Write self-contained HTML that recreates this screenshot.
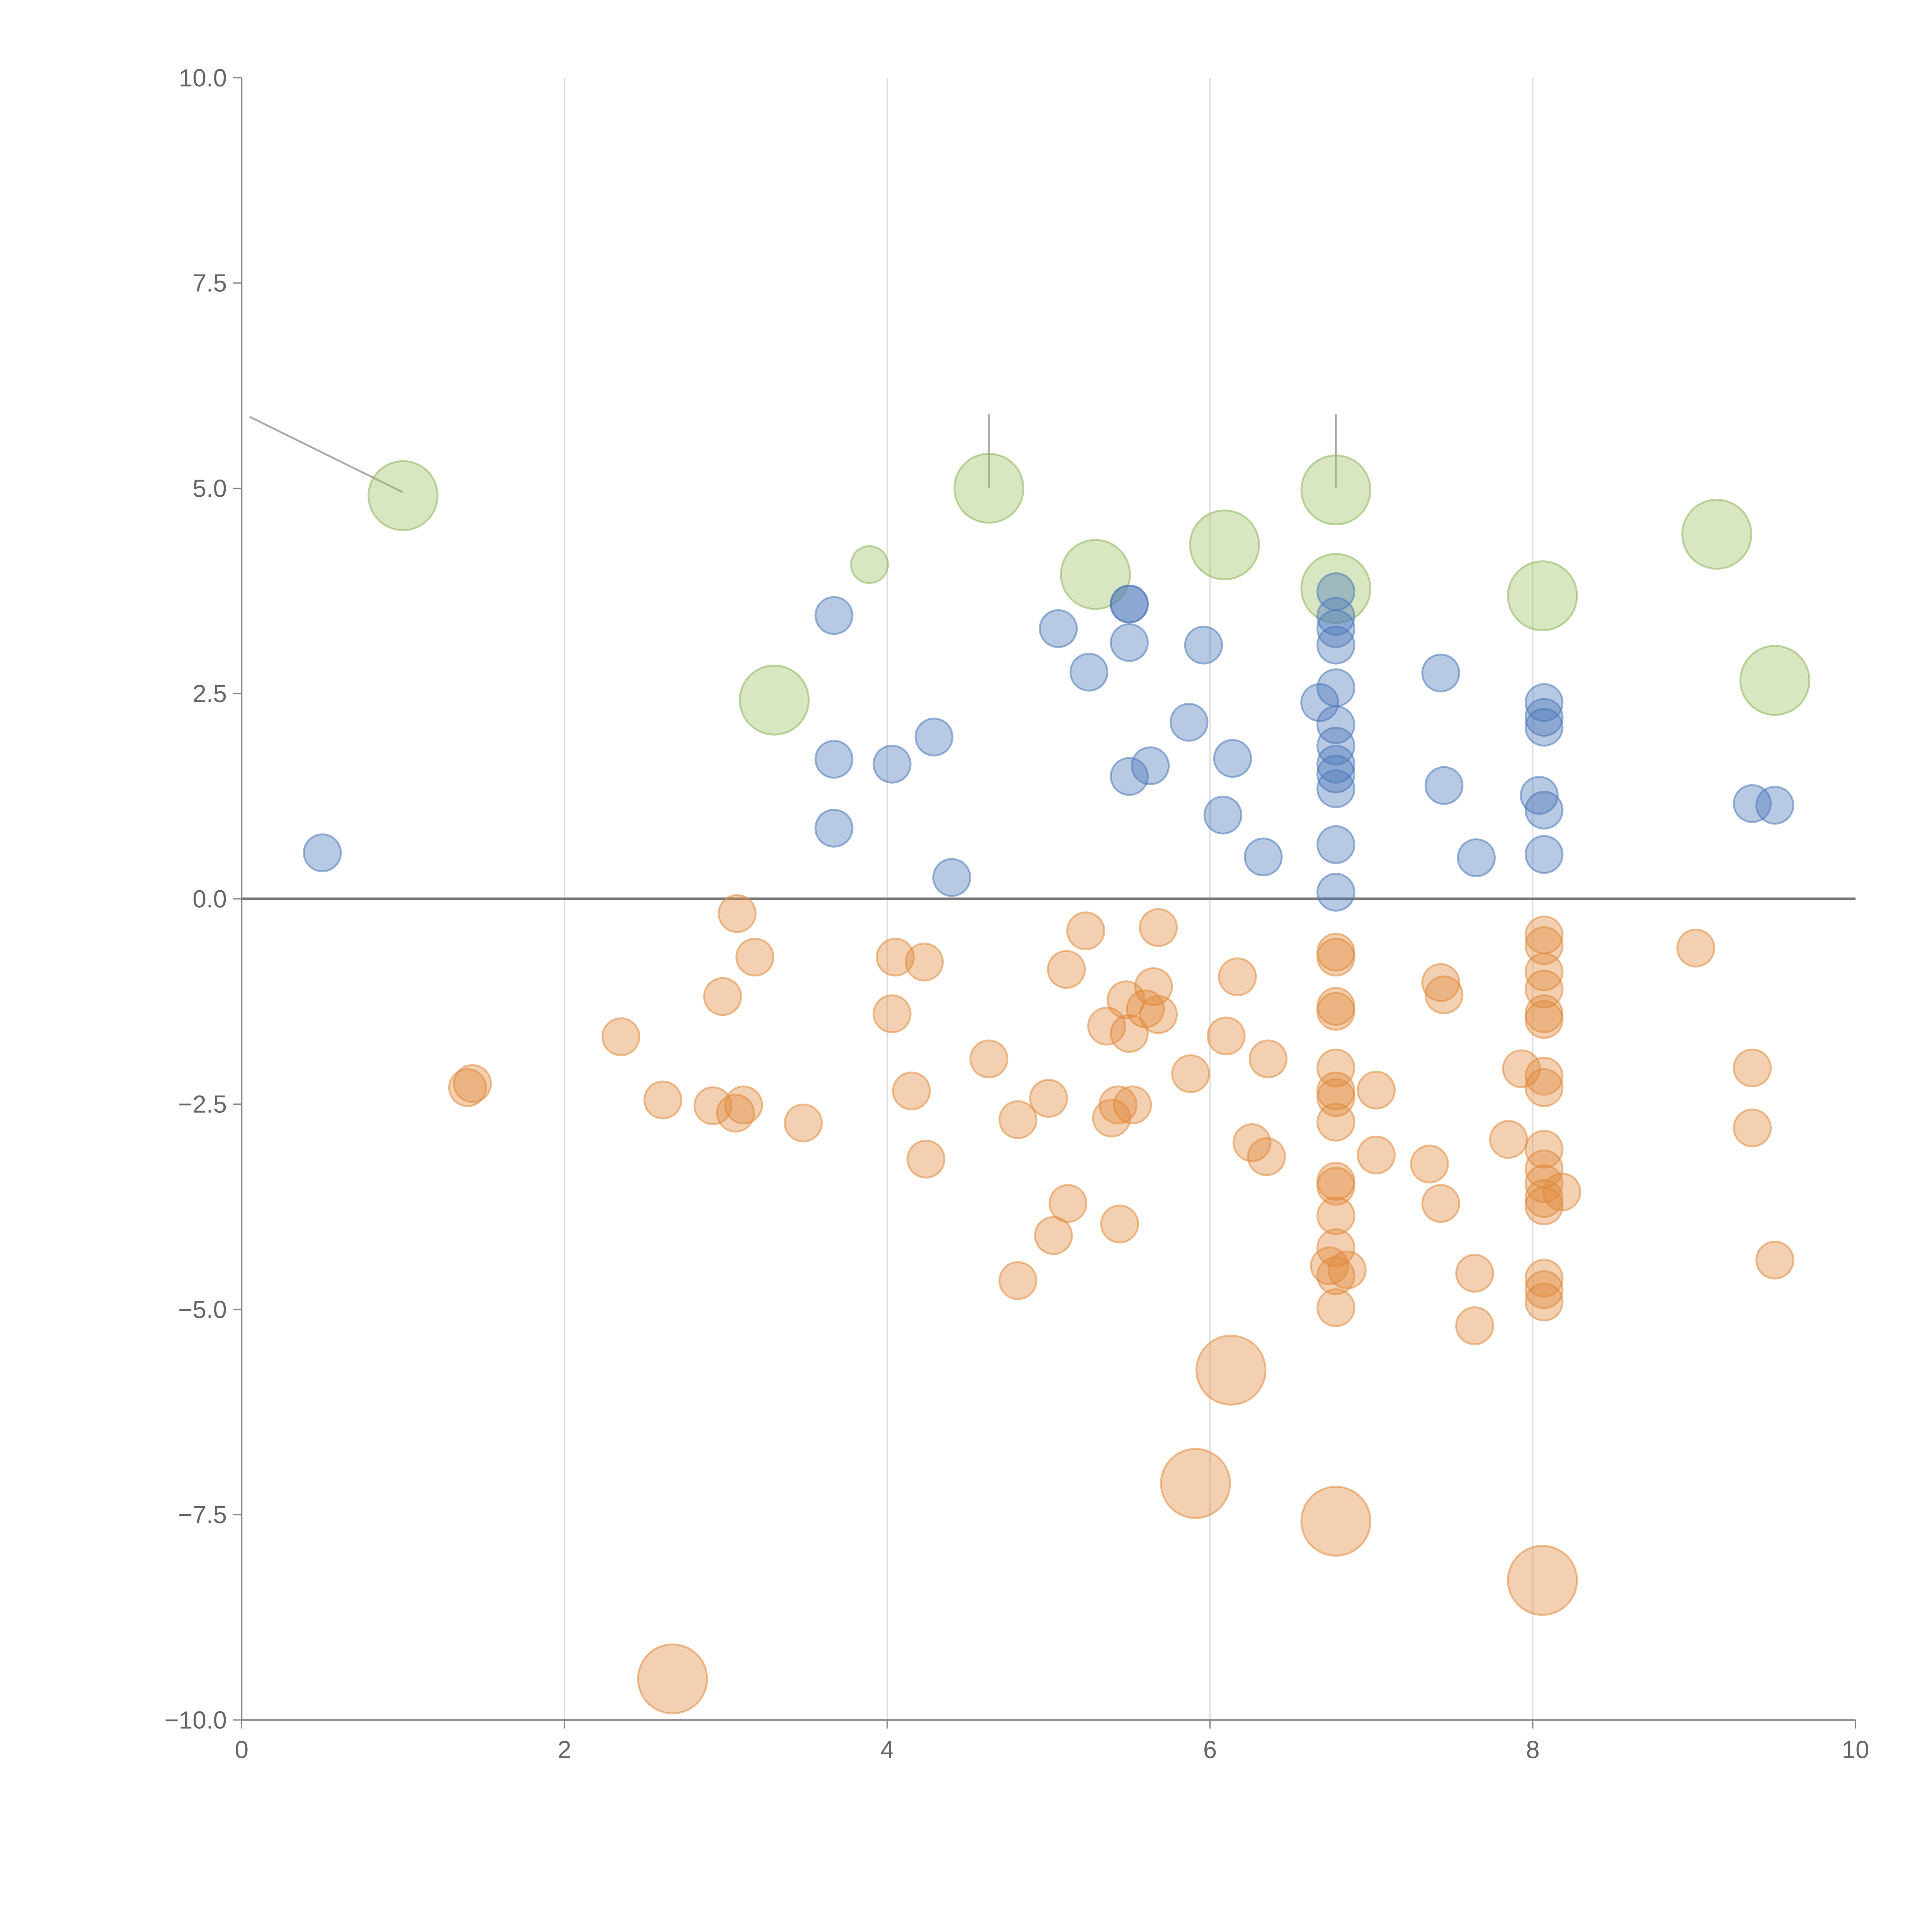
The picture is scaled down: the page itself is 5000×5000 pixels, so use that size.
<!DOCTYPE html>
<html><head><meta charset="utf-8"><style>html,body{margin:0;padding:0;background:#fff}svg{display:block}</style></head>
<body>
<svg id="chart" width="5000" height="5000" viewBox="0 0 1567 1567" xmlns="http://www.w3.org/2000/svg" font-family="Liberation Sans, sans-serif">
<g id="grid"></g>
<g id="axes"></g>
<g id="marks"></g>
</svg>
<script>
const xTicks=[0,2,4,6,8,10];
const yTicks=[10,7.5,5,2.5,0,-2.5,-5,-7.5,-10];
const blueX=[0.50,3.67,3.67,3.67,4.03,4.29,4.40,5.06,5.25,5.50,5.50,5.50,5.50,5.63,5.87,5.96,6.08,6.14,6.33,6.68,6.78,6.78,6.78,6.78,6.78,6.78,6.78,6.78,6.78,6.78,6.78,6.78,7.43,7.45,7.65,8.07,8.07,8.07,8.04,8.07,8.07,9.36,9.50];
const blueY=[0.56,3.45,1.70,0.86,1.64,1.97,0.26,3.29,2.76,3.59,3.59,3.12,1.49,1.62,2.15,3.09,1.02,1.71,0.51,2.39,3.74,3.44,3.29,3.09,2.57,2.12,1.86,1.64,1.52,1.34,0.66,0.08,2.75,1.38,0.50,2.39,2.21,2.09,1.26,1.08,0.54,1.16,1.14];
const orangeX=[3.07,3.18,2.98,2.35,1.40,1.43,2.61,2.92,3.06,3.11,3.48,4.05,4.23,4.03,4.15,4.24,4.63,4.81,4.81,5.00,5.11,5.12,5.03,5.23,5.36,5.39,5.43,5.44,5.52,5.48,5.50,5.60,5.65,5.68,5.68,5.88,6.10,6.17,6.26,6.35,6.36,6.74,6.78,6.78,6.78,6.78,6.78,6.78,6.78,6.78,6.78,6.78,6.78,6.78,6.78,6.85,6.78,7.03,7.03,7.36,7.43,7.45,7.43,7.64,7.64,7.85,7.93,8.07,8.07,8.07,8.07,8.07,8.07,8.07,8.07,8.07,8.07,8.07,8.07,8.07,8.18,8.07,8.07,8.07,9.01,9.36,9.36,9.50];
const orangeY=[-0.18,-0.71,-1.19,-1.68,-2.30,-2.25,-2.45,-2.52,-2.61,-2.51,-2.73,-0.71,-0.77,-1.40,-2.34,-3.17,-1.95,-2.69,-4.65,-2.43,-0.86,-3.71,-4.10,-0.39,-1.55,-2.67,-2.51,-3.96,-2.51,-1.23,-1.64,-1.34,-1.07,-1.41,-0.35,-2.13,-1.67,-0.95,-2.97,-3.14,-1.95,-4.47,-0.65,-0.71,-1.31,-1.37,-2.06,-2.34,-2.42,-2.72,-3.44,-3.50,-3.86,-4.25,-4.59,-4.52,-4.98,-2.33,-3.12,-3.23,-1.02,-1.17,-3.71,-4.56,-5.20,-2.93,-2.07,-0.44,-0.57,-0.89,-1.10,-1.40,-1.47,-2.16,-2.30,-3.05,-3.29,-3.47,-3.65,-3.74,-3.57,-4.62,-4.76,-4.91,-0.60,-2.06,-2.79,-4.40];
const bigOrangeX=[2.67,6.13,5.91,6.78,8.06];
const bigOrangeY=[-9.50,-5.74,-7.12,-7.58,-8.30];
const greenX=[1.00,3.30,4.63,5.29,6.09,6.78,6.78,8.06,9.14,9.50];
const greenY=[4.91,2.42,5.00,3.95,4.31,4.98,3.78,3.69,4.44,2.66];
const smallGreenX=[3.89];
const smallGreenY=[4.07];

const NS="http://www.w3.org/2000/svg";
const X0=196,X1=1505,Y0=1395,Y1=63;
function sx(v){return X0+(v-0)/(10-0)*(X1-X0);}
function sy(v){return Y0-(v+10)/20*(Y0-Y1);}
function el(t,a,p){const e=document.createElementNS(NS,t);for(const k in a)e.setAttribute(k,a[k]);p.appendChild(e);return e;}
const grid=document.getElementById('grid'),axes=document.getElementById('axes'),marks=document.getElementById('marks');
[2,4,6,8].forEach(v=>{const l=el('line',{x1:sx(v),x2:sx(v),y1:Y1,y2:Y0,stroke:'#ddd','stroke-width':1},grid);

});
let a=el('line',{x1:X0,x2:X0,y1:Y1,y2:Y0,stroke:'#888','stroke-width':1.2},axes);


a=el('line',{x1:X0,x2:X1,y1:Y0,y2:Y0,stroke:'#888','stroke-width':1.2},axes);


a=el('line',{x1:X0,x2:X1,y1:sy(0),y2:sy(0),stroke:'#777','stroke-width':2.2},axes);


xTicks.forEach(v=>{el('line',{x1:sx(v),x2:sx(v),y1:Y0,y2:Y0+7,stroke:'#888'},axes);
const t=el('text',{x:sx(v),y:Y0+31,'text-anchor':'middle','font-size':20,fill:'#666'},axes);t.textContent=String(v);

});
yTicks.forEach(v=>{el('line',{x1:X0-7,x2:X0,y1:sy(v),y2:sy(v),stroke:'#888'},axes);
const t=el('text',{x:X0-12,y:sy(v)+7,'text-anchor':'end','font-size':20,fill:'#666'},axes);t.textContent=v.toFixed(1).replace('-','\u2212');

});
[[0.05,5.87,1.0,4.95],[4.63,5.9,4.63,5.0],[6.78,5.9,6.78,5.0]].forEach(s=>{const l=el('line',{x1:sx(s[0]),y1:sy(s[1]),x2:sx(s[2]),y2:sy(s[3]),stroke:'#aaa','stroke-width':1.5},axes);

});
function draw(xs,ys,r,fill,stroke,name){xs.forEach((x,i)=>{const c=el('circle',{cx:sx(x),cy:sy(ys[i]),r:r,fill:fill,stroke:stroke,'stroke-width':1.5},marks);

});}
draw(greenX,greenY,28,'rgba(157,193,101,0.4)','rgba(140,180,90,0.55)','green-bubble');
draw(smallGreenX,smallGreenY,15,'rgba(157,193,101,0.4)','rgba(140,180,90,0.55)','green-bubble');
draw(blueX,blueY,15,'rgba(76,120,185,0.4)','rgba(76,120,185,0.55)','blue-point');
draw(orangeX,orangeY,15,'rgba(224,138,60,0.4)','rgba(224,138,60,0.55)','orange-point');
draw(bigOrangeX,bigOrangeY,28,'rgba(224,138,60,0.4)','rgba(224,138,60,0.55)','orange-bubble');
</script>
</body></html>
